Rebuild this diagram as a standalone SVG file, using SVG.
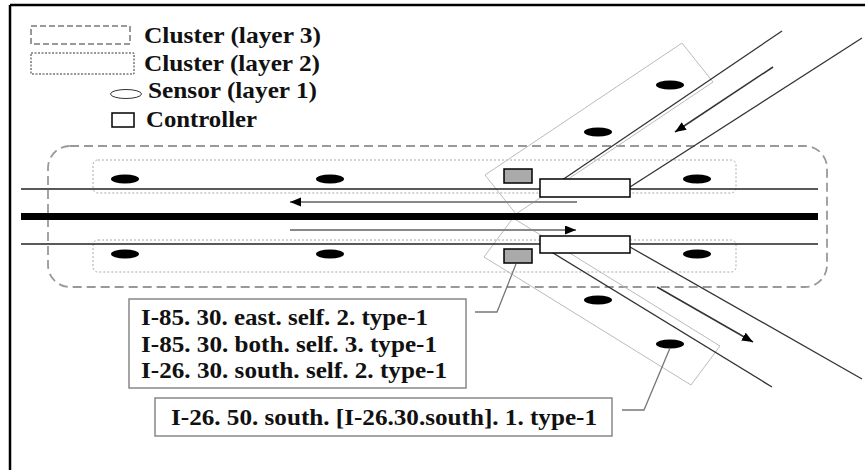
<svg xmlns="http://www.w3.org/2000/svg" width="867" height="470" viewBox="0 0 867 470">
<defs>
<marker id="ah" markerUnits="userSpaceOnUse" markerWidth="12" markerHeight="10" refX="11" refY="4.5" orient="auto">
<path d="M0,0 L11,4.5 L0,9 z" fill="#000"/>
</marker>
<style>
.t{font-family:"Liberation Serif","Times New Roman",serif;font-weight:bold;fill:#111}
.lt{font-size:24px}
.bt{font-size:24px}
.road{stroke:#222;stroke-width:1.5;fill:none}
.droad{stroke:#333;stroke-width:1.3;fill:none}
.l3{fill:none;stroke:#999;stroke-width:1.8;stroke-dasharray:9 5}
.l2{fill:none;stroke:#aaa;stroke-width:1;stroke-dasharray:2 2}
.l2d{fill:none;stroke:#bbb;stroke-width:1}
.sensor{fill:#000}
.ctrl{fill:#fff;stroke:#000;stroke-width:1.5}
.gsq{fill:#aaa;stroke:#000;stroke-width:1.5}
.harrow{stroke:#888;stroke-width:2;fill:none}
.darrow{stroke:#333;stroke-width:1.5;fill:none}
.lead{stroke:#777;stroke-width:1.3;fill:none}
.box{fill:#fff;stroke:#888;stroke-width:1.5}
</style>
</defs>
<rect width="867" height="470" fill="#fff"/>
<g id="frame" stroke="#000" stroke-width="2.5">
<line x1="10" y1="5" x2="10" y2="470"/>
<line x1="10" y1="5" x2="865" y2="5"/>
</g>
<g id="legend">
<rect x="31" y="26" width="99" height="18" fill="none" stroke="#333" stroke-width="1" stroke-dasharray="6 3"/>
<text class="t lt" x="144" y="43" textLength="177" lengthAdjust="spacingAndGlyphs">Cluster (layer 3)</text>
<rect x="31" y="53" width="103" height="21" fill="none" stroke="#333" stroke-width="1" stroke-dasharray="2 1.5"/>
<text class="t lt" x="144" y="71" textLength="176" lengthAdjust="spacingAndGlyphs">Cluster (layer 2)</text>
<ellipse cx="126" cy="94" rx="15.5" ry="4.5" fill="none" stroke="#333" stroke-width="1"/>
<text class="t lt" x="148" y="98" textLength="169" lengthAdjust="spacingAndGlyphs">Sensor (layer 1)</text>
<rect x="112" y="113" width="22" height="14" fill="none" stroke="#000" stroke-width="1.5"/>
<text class="t lt" x="146" y="127" textLength="111" lengthAdjust="spacingAndGlyphs">Controller</text>
</g>
<g id="cluster-l3">
<rect class="l3" x="48" y="146" width="779" height="141" rx="22"/>
</g>
<g id="clusters-l2">
<rect id="c2-upper" class="l2" x="93" y="160" width="643" height="33" rx="5"/>
<rect id="c2-lower" class="l2" x="93" y="240" width="643" height="32" rx="5"/>
<polygon id="c2-ne" class="l2d" points="485,175 682,43 713,82 516,214"/>
<polygon id="c2-se" class="l2d" points="484,257 513,218 720,346 691,385"/>
</g>
<g id="roads">
<line class="road" x1="21" y1="189" x2="818" y2="189"/>
<line x1="21" y1="216.5" x2="818" y2="216.5" stroke="#000" stroke-width="7"/>
<line class="road" x1="21" y1="244" x2="818" y2="244"/>
<line class="droad" x1="540" y1="195" x2="782" y2="31"/>
<line class="droad" x1="630" y1="187" x2="862" y2="38"/>
<line class="droad" x1="540" y1="245" x2="772" y2="387"/>
<line class="droad" x1="630" y1="247" x2="862" y2="379"/>
</g>
<g id="sensors">
<ellipse class="sensor" cx="125" cy="179" rx="14" ry="4.5"/>
<ellipse class="sensor" cx="330" cy="179" rx="14" ry="4.5"/>
<ellipse class="sensor" cx="697" cy="179" rx="14" ry="4.5"/>
<ellipse class="sensor" cx="125" cy="254" rx="14" ry="4.5"/>
<ellipse class="sensor" cx="330" cy="254" rx="14" ry="4.5"/>
<ellipse class="sensor" cx="697" cy="254" rx="14" ry="4.5"/>
<ellipse class="sensor" cx="670" cy="85" rx="14" ry="4.5"/>
<ellipse class="sensor" cx="598" cy="132" rx="14" ry="4.5"/>
<ellipse class="sensor" cx="598" cy="300" rx="14" ry="4.5"/>
<ellipse class="sensor" cx="670" cy="344" rx="14" ry="4.5"/>
</g>
<g id="controllers">
<rect class="ctrl" x="540" y="179" width="90" height="18"/>
<rect class="ctrl" x="540" y="236" width="90" height="17"/>
<rect class="gsq" x="504" y="169" width="28" height="14"/>
<rect class="gsq" x="504" y="249" width="28" height="14"/>
</g>
<g id="connectors">
<line class="harrow" x1="577" y1="202" x2="290" y2="202" marker-end="url(#ah)"/>
<line class="harrow" x1="290" y1="230" x2="576" y2="230" marker-end="url(#ah)"/>
<line class="darrow" x1="773" y1="67" x2="675" y2="132" marker-end="url(#ah)"/>
<line class="darrow" x1="657" y1="287" x2="753" y2="342" marker-end="url(#ah)"/>
<polyline class="lead" points="475,312 497,312 516,264"/>
<polyline class="lead" points="622,410 644,410 670,348"/>
</g>
<g id="callout-1">
<rect class="box" x="129" y="299" width="337" height="89"/>
<text class="t bt" x="141" y="325" textLength="287" lengthAdjust="spacingAndGlyphs">I-85. 30. east. self. 2. type-1</text>
<text class="t bt" x="141" y="352" textLength="296" lengthAdjust="spacingAndGlyphs">I-85. 30. both. self. 3. type-1</text>
<text class="t bt" x="141" y="378" textLength="306" lengthAdjust="spacingAndGlyphs">I-26. 30. south. self. 2. type-1</text>
</g>
<g id="callout-2">
<rect class="box" x="155" y="398" width="457" height="38"/>
<text class="t bt" x="171" y="425" textLength="426" lengthAdjust="spacingAndGlyphs">I-26. 50. south. [I-26.30.south]. 1. type-1</text>
</g>
</svg>
